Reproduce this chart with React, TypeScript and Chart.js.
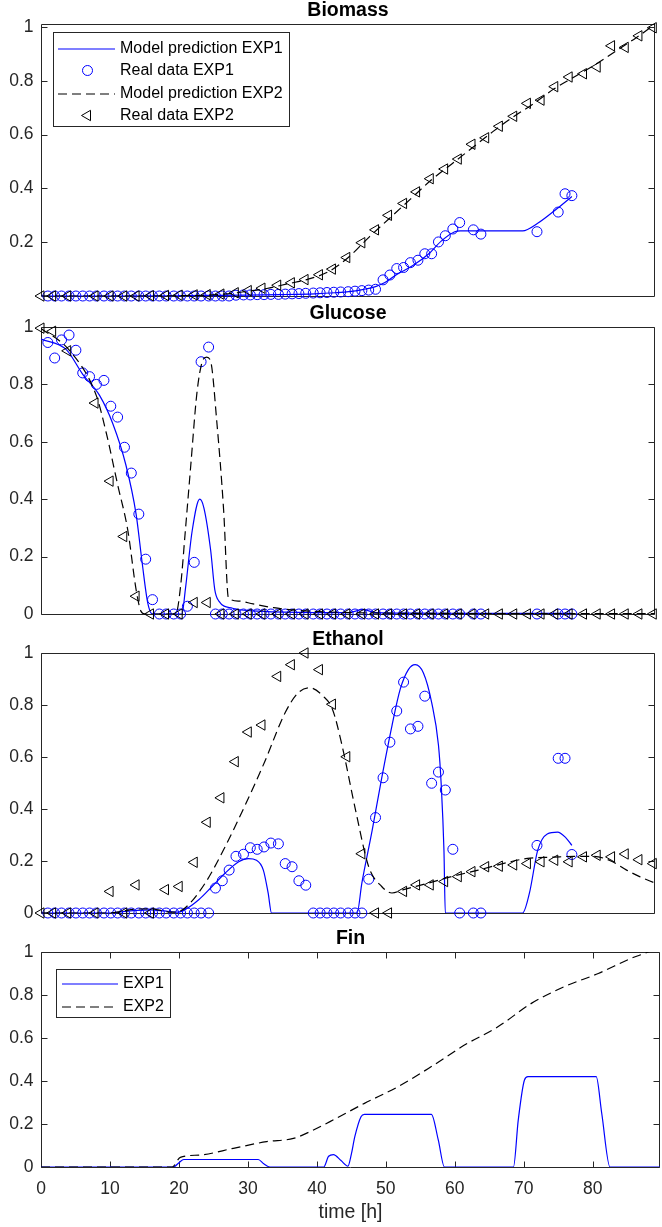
import React, { useEffect, useRef } from 'react';
import { Chart, registerables } from 'chart.js';

Chart.register(...registerables);

// ---------- axes ----------
const X_MAX = 89.75;
const X_TICKS = [0, 10, 20, 30, 40, 50, 60, 70, 80];
const Y_TICKS = [0, 0.2, 0.4, 0.6, 0.8, 1];
const Y_TICKS_BIOMASS = [0.2, 0.4, 0.6, 0.8, 1];

// ---------- real data EXP1 (sample times, h) ----------
const tExp1 = [
  1.0, 2.0, 3.0, 4.1, 5.1, 6.1, 7.1, 8.1, 9.2, 10.2, 11.2, 12.2, 13.2, 14.3, 15.3, 16.3,
  17.3, 18.3, 19.4, 20.4, 21.4, 22.4, 23.4, 24.5, 25.5, 26.5, 27.5, 28.5, 29.6, 30.6,
  31.6, 32.6, 33.6, 34.7, 35.7, 36.7, 37.7, 38.7, 39.8, 40.8, 41.8, 42.8, 43.8, 44.9,
  45.9, 46.9, 47.9, 48.9, 50.0, 51.0, 52.0, 53.0, 54.0, 55.1, 56.1, 57.1, 58.1, 59.1,
  60.2, 61.2, 63.2, 64.3, 72.5, 75.6, 76.6, 77.6,
];
const biomassExp1 = [
  0, 0, 0, 0, 0, 0, 0, 0, 0, 0, 0, 0, 0, 0, 0, 0,
  0, 0, 0, 0, 0, 0, 0, 0, 0, 0, 0, 0.003, 0.004, 0.004,
  0.005, 0.005, 0.006, 0.006, 0.007, 0.008, 0.009, 0.01, 0.011, 0.012, 0.013, 0.014, 0.015, 0.016,
  0.018, 0.02, 0.022, 0.025, 0.06, 0.078, 0.102, 0.106, 0.124, 0.133, 0.157, 0.157, 0.201, 0.224,
  0.249, 0.273, 0.246, 0.23, 0.239, 0.312, 0.38, 0.373,
];
const glucoseExp1 = [
  0.946, 0.892, 0.955, 0.972, 0.919, 0.84, 0.827, 0.8, 0.814, 0.724, 0.686, 0.581, 0.491, 0.348, 0.191, 0.05,
  0, 0, 0, 0, 0.027, 0.18, 0.879, 0.93, 0, 0, 0, 0, 0, 0,
  0, 0, 0, 0, 0, 0, 0, 0, 0, 0, 0, 0, 0, 0,
  0, 0, 0, 0, 0, 0, 0, 0, 0, 0, 0, 0, 0, 0,
  0, 0, 0, 0, 0, 0, 0, 0,
];
const ethanolExp1 = [
  0, 0, 0, 0, 0, 0, 0, 0, 0, 0, 0, 0, 0, 0, 0, 0,
  0, 0, 0, 0, 0, 0, 0, 0, 0.096, 0.124, 0.165, 0.218, 0.226, 0.251,
  0.245, 0.254, 0.269, 0.266, 0.19, 0.178, 0.124, 0.107, 0, 0, 0, 0, 0, 0,
  0, 0, 0.13, 0.367, 0.52, 0.657, 0.777, 0.888, 0.708, 0.718, 0.834, 0.499, 0.542, 0.473,
  0.245, 0, 0, 0, 0.26, 0.595, 0.595, 0.225,
];

// ---------- real data EXP2 (sample times, h) ----------
const tExp2 = [
  0, 1.7, 3.9, 7.9, 10.1, 12.1, 13.9, 16.0, 18.2, 20.2,
  22.4, 24.3, 26.3, 28.4, 30.3, 32.3, 34.6, 36.6, 38.6, 40.7,
  42.6, 44.7, 46.9, 48.9, 50.8, 53.0, 54.9, 56.9, 59.0, 61.0,
  63.0, 65.0, 67.0, 69.1, 71.1, 73.1, 75.1, 77.2, 79.3, 81.3,
  83.4, 85.4, 87.4, 89.5,
];
const biomassExp2 = [
  0, 0, 0, 0, 0, 0, 0, 0.001, 0.002, 0.003,
  0.004, 0.005, 0.007, 0.012, 0.02, 0.029, 0.04, 0.049, 0.061, 0.079,
  0.1, 0.143, 0.198, 0.246, 0.3, 0.344, 0.387, 0.436, 0.472, 0.509,
  0.564, 0.588, 0.631, 0.668, 0.716, 0.728, 0.778, 0.814, 0.826, 0.851,
  0.93, 0.924, 0.967, 0.997,
];
const glucoseExp2 = [
  0.996, 0.985, 0.917, 0.735, 0.463, 0.27, 0.062, 0, 0, 0,
  0.04, 0.04, 0, 0, 0, 0, 0, 0, 0, 0,
  0, 0, 0, 0, 0, 0, 0, 0, 0, 0,
  0, 0, 0, 0, 0, 0, 0, 0, 0, 0,
  0, 0, 0, 0,
];
const ethanolExp2 = [
  0, 0, 0, 0, 0.083, 0, 0.108, 0, 0.09, 0.102,
  0.195, 0.349, 0.443, 0.582, 0.696, 0.723, 0.91, 0.955, 1.0, 0.936,
  0.803, 0.601, 0.228, 0, 0, 0.083, 0.108, 0.108, 0.121, 0.14,
  0.159, 0.178, 0.18, 0.185, 0.19, 0.197, 0.203, 0.197, 0.216, 0.222,
  0.216, 0.227, 0.205, 0.19,
];

// ---------- model predictions ----------
const tBiomassModel1 = [0, 10, 20, 30, 35, 40, 43, 45, 47, 49, 50.2, 52, 54.3, 56.6, 58.5, 60.4, 61.3, 65, 70.4, 72.6, 75.5, 77.6];
const biomassModel1 = [0, 0, 0.001, 0.003, 0.005, 0.008, 0.012, 0.016, 0.024, 0.036, 0.049, 0.08, 0.112, 0.155, 0.204, 0.238, 0.242, 0.242, 0.242, 0.27, 0.326, 0.37];
const tBiomassModel2 = [0, 15, 20, 25, 28, 30, 33, 36, 39, 42, 45, 48, 51, 54, 57, 60, 63, 66, 69, 72, 75, 78, 81, 84, 87, 89.75];
const biomassModel2 = [0, 0, 0.001, 0.004, 0.01, 0.017, 0.028, 0.045, 0.062, 0.09, 0.145, 0.22, 0.29, 0.36, 0.43, 0.49, 0.55, 0.61, 0.665, 0.715, 0.77, 0.815, 0.86, 0.91, 0.96, 1.01];

const tGlucoseModel1 = [0, 3.7, 6.1, 8.6, 10.5, 12.4, 13.9, 14.8, 15.6, 16.3, 20.6, 21.1, 22.1, 23.2, 23.8, 24.8, 25.4, 26.0, 28, 32, 40, 45, 47, 49, 55, 65, 77.6];
const glucoseModel1 = [0.958, 0.921, 0.835, 0.76, 0.663, 0.52, 0.348, 0.176, 0.039, 0, 0, 0.085, 0.29, 0.4, 0.371, 0.222, 0.085, 0.045, 0.02, 0.01, 0.005, 0.005, 0.015, 0.005, 0.003, 0.002, 0.002];
const tGlucoseModel2 = [0, 4.1, 8.1, 9.5, 11.2, 12.7, 13.9, 14.6, 15.2, 19.7, 20.4, 21.1, 21.9, 22.8, 23.6, 24.2, 24.8, 25.7, 26.7, 27.4, 28.9, 31, 34, 38, 45, 60, 89.75];
const glucoseModel2 = [0.995, 0.92, 0.76, 0.635, 0.451, 0.29, 0.085, 0.01, 0, 0, 0.096, 0.29, 0.52, 0.772, 0.881, 0.895, 0.88, 0.669, 0.36, 0.056, 0.045, 0.035, 0.022, 0.012, 0.005, 0.002, 0.001];

const tEthanolModel1 = [0, 10, 12, 14, 16, 18, 20, 21.1, 23.1, 25.0, 26.9, 28.9, 30.3, 31.5, 32.5, 33.2, 33.7, 46.2, 46.9, 48.4, 49.8, 51.3, 52.5, 53.7, 54.7, 55.9, 57.1, 58.1, 58.5, 58.9, 59.1, 70.4, 71.4, 72.6, 74.0, 75.5, 76.7, 77.6];
const ethanolModel1 = [0, 0, 0.005, 0.01, 0.012, 0.008, 0.003, 0.014, 0.052, 0.102, 0.153, 0.197, 0.209, 0.203, 0.165, 0.077, 0, 0, 0.115, 0.317, 0.519, 0.72, 0.86, 0.936, 0.955, 0.923, 0.81, 0.645, 0.494, 0.241, 0, 0, 0.077, 0.241, 0.304, 0.311, 0.29, 0.26];
const tEthanolModel2 = [0, 10, 12, 14, 16, 17.5, 19, 20, 21.1, 24.0, 26.9, 29.9, 32.7, 35.7, 37.6, 39.3, 41.2, 42.6, 44.0, 46.0, 47.9, 49.8, 51.3, 53, 56.6, 60, 63.9, 67.5, 71.1, 75, 78, 80.8, 83.3, 85.6, 87.5, 89.75];
const ethanolModel2 = [0, 0, 0.008, 0.015, 0.016, 0.01, 0.003, 0.005, 0.02, 0.115, 0.254, 0.418, 0.582, 0.771, 0.847, 0.866, 0.835, 0.784, 0.645, 0.393, 0.178, 0.102, 0.077, 0.09, 0.115, 0.14, 0.165, 0.19, 0.21, 0.215, 0.218, 0.218, 0.2, 0.165, 0.14, 0.115];

const tFin1 = [0, 19.2, 20.0, 20.7, 31.5, 32.3, 33.2, 41.0, 41.7, 42.4, 43.5, 44.5, 45.0, 45.5, 46.4, 46.9, 56.6, 57.6, 58.5, 68.5, 69.2, 70.1, 70.6, 80.5, 81.3, 82.5, 89.75];
const fin1 = [0, 0, 0.02, 0.035, 0.035, 0.015, 0, 0, 0.05, 0.058, 0.03, 0.004, 0.06, 0.141, 0.234, 0.245, 0.245, 0.126, 0, 0, 0.219, 0.405, 0.42, 0.42, 0.25, 0, 0];
const tFin2 = [0, 19, 20.2, 23.1, 27.9, 32.7, 36.6, 39.5, 41.9, 46.9, 51.8, 56.6, 61.4, 66.3, 71.1, 75.9, 80.8, 85.6, 88.0, 89.75];
const fin2 = [0, 0, 0.045, 0.056, 0.087, 0.118, 0.133, 0.172, 0.211, 0.296, 0.374, 0.467, 0.567, 0.653, 0.761, 0.839, 0.9, 0.971, 1.0, 1.03];

// ---------- styles ----------
const FONT = '"Liberation Sans", Arial, Helvetica, sans-serif';
const AXIS_COLOR = '#262626';
const BLUE = 'rgb(0, 0, 255)';
const BLACK = 'rgb(0, 0, 0)';
const DASH = [9, 5];
const LINE_W = 1.2;

const pts = (xs: number[], ys: number[]) => xs.map((x, i) => ({ x, y: ys[i] }));

function modelLine(label: string, xs: number[], ys: number[], dashed: boolean) {
  const c = dashed ? BLACK : BLUE;
  return {
    label,
    data: pts(xs, ys),
    showLine: true,
    borderColor: c,
    backgroundColor: c,
    borderWidth: LINE_W,
    borderDash: dashed ? DASH : [],
    pointRadius: 0,
    pointHoverRadius: 0,
    cubicInterpolationMode: 'monotone',
    fill: false,
    order: dashed ? 2 : 4,
  };
}

function markers(label: string, xs: number[], ys: number[], tri: boolean) {
  const c = tri ? BLACK : BLUE;
  const r = tri ? 6 : 5;
  return {
    label,
    data: pts(xs, ys),
    showLine: false,
    pointStyle: tri ? 'triangle' : 'circle',
    pointRotation: tri ? -90 : 0,
    pointRadius: r,
    pointHoverRadius: r,
    pointBorderWidth: 1,
    pointBorderColor: c,
    pointBackgroundColor: 'rgba(0,0,0,0)',
    borderColor: c,
    backgroundColor: 'rgba(0,0,0,0)',
    clip: false,
    order: tri ? 1 : 3,
  };
}

type LegendItem = { kind: 'line' | 'circle' | 'triangle'; color: string; dashed?: boolean; r?: number };
type LegendCfg = { dx: number; dy: number; w: number; h: number; y0: number; step: number; lineX0: number; lineX1: number; markerX: number; textX: number; items: LegendItem[] };

type PanelDef = {
  key: string;
  title: string;
  top: number;
  height: number;
  padBottom: number;
  yMax: number;
  yTicks: number[];
  showX: boolean;
  datasets: any[];
  legend?: LegendCfg;
};

const PANELS: PanelDef[] = [
  {
    key: 'biomass', title: 'Biomass', top: 0, height: 314, padBottom: 14, yMax: 1.011, yTicks: Y_TICKS_BIOMASS, showX: false,
    datasets: [
      modelLine('Model prediction EXP1', tBiomassModel1, biomassModel1, false),
      markers('Real data EXP1', tExp1, biomassExp1, false),
      modelLine('Model prediction EXP2', tBiomassModel2, biomassModel2, true),
      markers('Real data EXP2', tExp2, biomassExp2, true),
    ],
    legend: {
      dx: 12, dy: 8, w: 236, h: 94, y0: 16, step: 22.4, lineX0: 5, lineX1: 62, markerX: 34, textX: 67,
      items: [
        { kind: 'line', color: BLUE, dashed: false },
        { kind: 'circle', color: BLUE, r: 5 },
        { kind: 'line', color: BLACK, dashed: true },
        { kind: 'triangle', color: BLACK, r: 6 },
      ],
    },
  },
  {
    key: 'glucose', title: 'Glucose', top: 303, height: 329, padBottom: 14, yMax: 1, yTicks: Y_TICKS, showX: false,
    datasets: [
      modelLine('Model prediction EXP1', tGlucoseModel1, glucoseModel1, false),
      markers('Real data EXP1', tExp1, glucoseExp1, false),
      modelLine('Model prediction EXP2', tGlucoseModel2, glucoseModel2, true),
      markers('Real data EXP2', tExp2, glucoseExp2, true),
    ],
  },
  {
    key: 'ethanol', title: 'Ethanol', top: 629, height: 302, padBottom: 14, yMax: 1, yTicks: Y_TICKS, showX: false,
    datasets: [
      modelLine('Model prediction EXP1', tEthanolModel1, ethanolModel1, false),
      markers('Real data EXP1', tExp1, ethanolExp1, false),
      modelLine('Model prediction EXP2', tEthanolModel2, ethanolModel2, true),
      markers('Real data EXP2', tExp2, ethanolExp2, true),
    ],
  },
  {
    key: 'fin', title: 'Fin', top: 928, height: 299, padBottom: 3, yMax: 1, yTicks: Y_TICKS, showX: true,
    datasets: [
      modelLine('EXP1', tFin1, fin1, false),
      modelLine('EXP2', tFin2, fin2, true),
    ],
    legend: {
      dx: 15, dy: 17, w: 114, h: 48, y0: 14, step: 23, lineX0: 6, lineX1: 62, markerX: 34, textX: 67,
      items: [
        { kind: 'line', color: BLUE, dashed: false },
        { kind: 'line', color: BLACK, dashed: true },
      ],
    },
  },
];

function drawMarker(ctx: CanvasRenderingContext2D, style: string, x: number, y: number, r: number, color: string) {
  ctx.save();
  ctx.strokeStyle = color;
  ctx.lineWidth = 1;
  ctx.setLineDash([]);
  ctx.beginPath();
  if (style === 'triangle') {
    ctx.moveTo(x - r, y);
    ctx.lineTo(x + r / 2, y - (r * Math.sqrt(3)) / 2);
    ctx.lineTo(x + r / 2, y + (r * Math.sqrt(3)) / 2);
    ctx.closePath();
  } else {
    ctx.arc(x, y, r, 0, Math.PI * 2);
  }
  ctx.stroke();
  ctx.restore();
}

function makeFramePlugin(p: PanelDef) {
  return {
    id: 'frame_' + p.key,
    beforeDatasetsDraw(chart: any) {
      const { ctx, chartArea: a, scales } = chart;
      const L = Math.round(a.left) + 0.5;
      const R = Math.round(a.right) - 0.5;
      const T = Math.round(a.top) + 0.5;
      const B = Math.round(a.bottom) + 0.5;
      ctx.save();
      ctx.strokeStyle = AXIS_COLOR;
      ctx.lineWidth = 1;
      ctx.setLineDash([]);
      ctx.beginPath();
      ctx.rect(L, T, R - L, B - T);
      const tl = 6;
      p.yTicks.forEach((v) => {
        const y = Math.round(scales.y.getPixelForValue(v)) + 0.5;
        ctx.moveTo(L, y); ctx.lineTo(L + tl, y);
        ctx.moveTo(R, y); ctx.lineTo(R - tl, y);
      });
      if (p.showX) {
        X_TICKS.forEach((v) => {
          const x = Math.round(scales.x.getPixelForValue(v)) + 0.5;
          ctx.moveTo(x, T); ctx.lineTo(x, T + tl);
          ctx.moveTo(x, B); ctx.lineTo(x, B - tl);
        });
      }
      ctx.stroke();
      ctx.restore();
    },
    afterDraw(chart: any) {
      const { ctx, chartArea: a } = chart;
      ctx.save();
      ctx.font = `bold 19.5px ${FONT}`;
      ctx.fillStyle = '#000';
      ctx.textAlign = 'center';
      ctx.textBaseline = 'alphabetic';
      ctx.fillText(p.title, (a.left + a.right) / 2, a.top - 8.5);
      ctx.restore();

      const lg = p.legend;
      if (!lg) return;
      const bx = Math.round(a.left + lg.dx);
      const by = Math.round(a.top + lg.dy);
      ctx.save();
      ctx.fillStyle = '#ffffff';
      ctx.fillRect(bx, by, lg.w, lg.h);
      ctx.strokeStyle = AXIS_COLOR;
      ctx.lineWidth = 1;
      ctx.setLineDash([]);
      ctx.strokeRect(bx + 0.5, by + 0.5, lg.w, lg.h);
      ctx.restore();
      chart.data.datasets.forEach((ds: any, i: number) => {
        const it = lg.items[i];
        if (!it) return;
        const yc = Math.round(by + lg.y0 + i * lg.step);
        if (it.kind === 'line') {
          // line sample straddles two pixel rows (soft, like the reference)
          ctx.save();
          ctx.strokeStyle = it.color;
          ctx.lineWidth = LINE_W;
          ctx.setLineDash(it.dashed ? DASH : []);
          ctx.beginPath();
          ctx.moveTo(bx + lg.lineX0, yc + 1);
          ctx.lineTo(bx + lg.lineX1, yc + 1);
          ctx.stroke();
          ctx.restore();
        } else {
          drawMarker(ctx, it.kind, bx + lg.markerX + 0.5, yc + 0.5, it.r || 5, it.color);
        }
        ctx.save();
        ctx.font = `16px ${FONT}`;
        ctx.textBaseline = 'middle';
        ctx.textAlign = 'left';
        ctx.fillStyle = '#000';
        ctx.fillText(ds.label, bx + lg.textX, yc + 0.5);
        ctx.restore();
      });
    },
  };
}

function Panel({ p }: { p: PanelDef }) {
  const ref = useRef<HTMLCanvasElement | null>(null);
  useEffect(() => {
    if (!ref.current) return;
    const chart = new Chart(ref.current, {
      type: 'scatter',
      data: { datasets: p.datasets as any },
      options: {
        responsive: false,
        maintainAspectRatio: false,
        animation: false,
        devicePixelRatio: 1,
        events: [],
        layout: { padding: { left: 0, right: 2, top: 24, bottom: p.padBottom } },
        plugins: { legend: { display: false }, tooltip: { enabled: false }, title: { display: false } },
        scales: {
          x: {
            type: 'linear',
            min: 0,
            max: X_MAX,
            display: p.showX,
            grid: { display: false, drawTicks: false, tickLength: 0 },
            border: { display: false },
            afterBuildTicks: (axis: any) => { axis.ticks = X_TICKS.map((v) => ({ value: v })); },
            afterFit: (axis: any) => { if (p.showX) axis.height = 57; },
            ticks: {
              font: { family: FONT, size: 17.5 },
              color: AXIS_COLOR,
              padding: 12,
              maxRotation: 0,
              autoSkip: false,
              callback: (v: any) => String(v),
            },
            title: {
              display: p.showX,
              text: 'time [h]',
              font: { family: FONT, size: 19.5 },
              color: AXIS_COLOR,
              padding: { top: 0, bottom: 0 },
            },
          },
          y: {
            type: 'linear',
            min: 0,
            max: p.yMax,
            grid: { display: false, drawTicks: false, tickLength: 0 },
            border: { display: false },
            afterBuildTicks: (axis: any) => { axis.ticks = p.yTicks.map((v) => ({ value: v })); },
            afterFit: (axis: any) => { axis.width = 41; },
            ticks: {
              font: { family: FONT, size: 17.5 },
              color: AXIS_COLOR,
              padding: 7.5,
              callback: (v: any) => String(Math.round(Number(v) * 10) / 10),
            },
          },
        },
      } as any,
      plugins: [makeFramePlugin(p)],
    });
    return () => chart.destroy();
  }, [p]);
  return (
    <div style={{ position: 'absolute', left: 0, top: p.top, width: 662, height: p.height }}>
      <canvas ref={ref} width={662} height={p.height} style={{ width: 662, height: p.height, display: 'block' }} />
    </div>
  );
}

export default function App() {
  return (
    <div style={{ position: 'absolute', left: 0, top: 0, width: 662, height: 1227, background: '#ffffff', overflow: 'hidden' }}>
      {PANELS.map((p) => (
        <Panel key={p.key} p={p} />
      ))}
    </div>
  );
}
